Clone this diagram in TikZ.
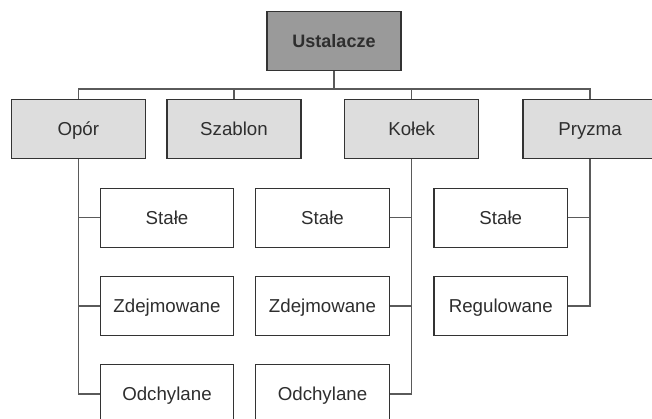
\documentclass[tikz,border=0pt]{standalone}
\usepackage{fontspec}
\setmainfont{Liberation Sans}
\definecolor{txt}{HTML}{2E2E2E}
\definecolor{edge}{HTML}{333333}
\definecolor{conn}{HTML}{5A5A5A}
\definecolor{topfill}{HTML}{9A9A9A}
\definecolor{midfill}{HTML}{DDDDDD}
\begin{document}
\begin{tikzpicture}[x=1pt,y=-1pt,
  box/.style={draw=edge, line width=1.4pt, minimum width=134pt, minimum height=59pt, inner sep=0pt,
    text=txt, font=\fontsize{18.7}{22}\selectfont, text height=13.3pt, text depth=0pt},
  topbox/.style={box, fill=topfill, font=\fontsize{18}{22}\selectfont\bfseries},
  midbox/.style={box, fill=midfill},
  leafbox/.style={box, fill=white, minimum width=133.5pt},
  conline/.style={draw=conn, line width=1.4pt}]
\useasboundingbox (0,0) rectangle (652,419);
\clip (0,0) rectangle (652,419);
\node[topbox] (U) at (334,41) {Ustalacze};
\node[midbox] (opor) at (78.3,129) {Opór};
\node[midbox] (szab) at (234,129) {Szablon};
\node[midbox] (kolek) at (411.7,129) {Kołek};
\node[midbox] (pryz) at (590,129) {Pryzma};
\node[leafbox] (o1) at (167,217.8) {Stałe};
\node[leafbox] (o2) at (167,306) {Zdejmowane};
\node[leafbox] (o3) at (167,393.8) {Odchylane};
\node[leafbox] (k1) at (322.5,217.8) {Stałe};
\node[leafbox] (k2) at (322.5,306) {Zdejmowane};
\node[leafbox] (k3) at (322.5,393.8) {Odchylane};
\node[leafbox] (p1) at (500.8,217.8) {Stałe};
\node[leafbox] (p2) at (500.8,306) {Regulowane};
\foreach \c in {opor,szab,kolek,pryz}
  \draw[conline] (U.south) -- ++(0,18) -| (\c.north);
\foreach \c in {o1,o2,o3}
  \draw[conline] (opor.south) |- (\c.west);
\foreach \c in {k1,k2,k3}
  \draw[conline] (kolek.south) |- (\c.east);
\foreach \c in {p1,p2}
  \draw[conline] (pryz.south) |- (\c.east);
\end{tikzpicture}
\end{document}
